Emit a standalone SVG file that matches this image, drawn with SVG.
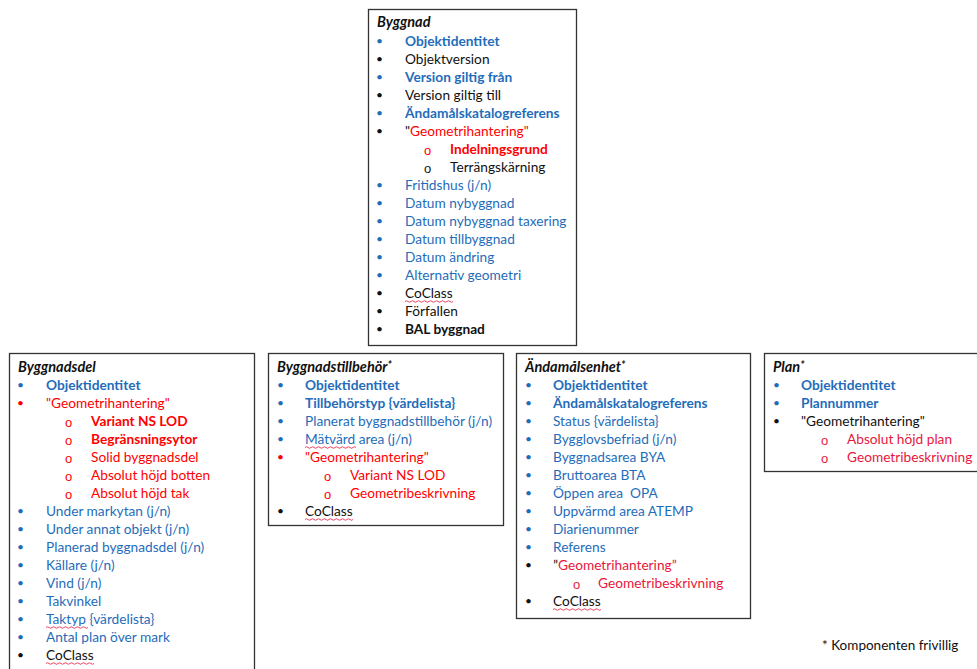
<svg xmlns="http://www.w3.org/2000/svg" width="977" height="669" viewBox="0 0 977 669">
<style>
  text { font-family: Lato, "Liberation Sans", "DejaVu Sans", sans-serif; font-size: 13.7px; fill: #111; }
  .box { fill: #fff; stroke: #333; stroke-width: 1.3; }
  .t { font-style: italic; font-weight: bold; font-size: 14.5px; fill: #111; }
  .b { fill: #1F6DBA; }
  .k { fill: #111; }
  .r { fill: #FF0000; }
  .c { fill: #E8173C; }
  .bd { font-weight: bold; }
  .dot { font-size: 12px; }
  .o { font-family: "Liberation Sans", sans-serif; font-size: 13px; }
  .sq { fill: none; stroke: #E8173C; stroke-width: 0.8; }
  .ast { font-size: 11px; }
</style>
<rect width="977" height="669" fill="#fff"/>
<g id="connectors"/>

<g id="byggnad">
  <rect class="box" x="368.5" y="9.5" width="208" height="336"/>
  <text class="t" x="377" y="27">Byggnad</text>
  <text class="dot b" x="376" y="45">•</text><text class="b bd" x="405" y="46">Objektidentitet</text>
  <text class="dot k" x="376" y="63">•</text><text class="k" x="405" y="64">Objektversion</text>
  <text class="dot b" x="376" y="81">•</text><text class="b bd" x="405" y="82">Version giltig från</text>
  <text class="dot k" x="376" y="99">•</text><text class="k" x="405" y="100">Version giltig till</text>
  <text class="dot b" x="376" y="117">•</text><text class="b bd" x="405" y="118">Ändamålskatalogreferens</text>
  <text class="dot k" x="376" y="135">•</text><text x="405" y="136"><tspan class="k">"</tspan><tspan class="r">Geometrihantering"</tspan></text>
  <text class="o r" x="424" y="155">o</text><text class="r bd" x="450" y="154">Indelningsgrund</text>
  <text class="o k" x="424" y="173">o</text><text class="k" x="450" y="172">Terrängskärning</text>
  <text class="dot b" x="376" y="189">•</text><text class="b" x="405" y="190">Fritidshus (j/n)</text>
  <text class="dot b" x="376" y="207">•</text><text class="b" x="405" y="208">Datum nybyggnad</text>
  <text class="dot b" x="376" y="225">•</text><text class="b" x="405" y="226">Datum nybyggnad taxering</text>
  <text class="dot b" x="376" y="243">•</text><text class="b" x="405" y="244">Datum tillbyggnad</text>
  <text class="dot b" x="376" y="261">•</text><text class="b" x="405" y="262">Datum ändring</text>
  <text class="dot b" x="376" y="279">•</text><text class="b" x="405" y="280">Alternativ geometri</text>
  <text class="dot k" x="376" y="297">•</text><text class="k" x="405" y="298">CoClass</text>
  <path class="sq" d="M405 301.5 q1.5 -1.5 3 0 t3 0 t3 0 t3 0 t3 0 t3 0 t3 0 t3 0 t3 0 t3 0 t3 0 t3 0 t3 0 t3 0 t3 0 t3 0"/>
  <text class="dot k" x="376" y="315">•</text><text class="k" x="405" y="316">Förfallen</text>
  <text class="dot k" x="376" y="333">•</text><text class="k bd" x="405" y="334">BAL byggnad</text>
</g>

<g id="byggnadsdel">
  <rect class="box" x="9.5" y="353.5" width="245" height="330"/>
  <text class="t" x="18" y="372">Byggnadsdel</text>
  <text class="dot b" x="17" y="389">•</text><text class="b bd" x="46" y="390">Objektidentitet</text>
  <text class="dot r" x="17" y="407">•</text><text class="r" x="46" y="408">"Geometrihantering"</text>
  <text class="o r" x="65" y="427">o</text><text class="r bd" x="91" y="426">Variant NS LOD</text>
  <text class="o r" x="65" y="445">o</text><text class="r bd" x="91" y="444">Begränsningsytor</text>
  <text class="o r" x="65" y="463">o</text><text class="r" x="91" y="462">Solid byggnadsdel</text>
  <text class="o r" x="65" y="481">o</text><text class="r" x="91" y="480">Absolut höjd botten</text>
  <text class="o r" x="65" y="499">o</text><text class="r" x="91" y="498">Absolut höjd tak</text>
  <text class="dot b" x="17" y="515">•</text><text class="b" x="46" y="516">Under markytan (j/n)</text>
  <text class="dot b" x="17" y="533">•</text><text class="b" x="46" y="534">Under annat objekt (j/n)</text>
  <text class="dot b" x="17" y="551">•</text><text class="b" x="46" y="552">Planerad byggnadsdel (j/n)</text>
  <text class="dot b" x="17" y="569">•</text><text class="b" x="46" y="570">Källare (j/n)</text>
  <text class="dot b" x="17" y="587">•</text><text class="b" x="46" y="588">Vind (j/n)</text>
  <text class="dot b" x="17" y="605">•</text><text class="b" x="46" y="606">Takvinkel</text>
  <text class="dot b" x="17" y="623">•</text><text class="b" x="46" y="624">Taktyp {värdelista}</text>
  <path class="sq" d="M46 627.5 q1.5 -1.5 3 0 t3 0 t3 0 t3 0 t3 0 t3 0 t3 0 t3 0 t3 0 t3 0 t3 0 t3 0 t3 0 t3 0"/>
  <text class="dot b" x="17" y="641">•</text><text class="b" x="46" y="642">Antal plan över mark</text>
  <text class="dot k" x="17" y="659">•</text><text class="k" x="46" y="660">CoClass</text>
  <path class="sq" d="M46 663.5 q1.5 -1.5 3 0 t3 0 t3 0 t3 0 t3 0 t3 0 t3 0 t3 0 t3 0 t3 0 t3 0 t3 0 t3 0 t3 0 t3 0 t3 0"/>
</g>

<g id="byggnadstillbehor">
  <rect class="box" x="268.5" y="353.5" width="235" height="172"/>
  <text class="t" x="277" y="372">Byggnadstillbehör<tspan class="ast" dy="-3">*</tspan></text>
  <text class="dot b" x="277" y="389">•</text><text class="b bd" x="305" y="390">Objektidentitet</text>
  <text class="dot b" x="277" y="407">•</text><text class="b bd" x="305" y="408">Tillbehörstyp {värdelista}</text>
  <text class="dot b" x="277" y="425">•</text><text class="b" x="305" y="426">Planerat byggnadstillbehör (j/n)</text>
  <text class="dot b" x="277" y="443">•</text><text class="b" x="305" y="444">Mätvärd area (j/n)</text>
  <path class="sq" d="M305 447.5 q1.5 -1.5 3 0 t3 0 t3 0 t3 0 t3 0 t3 0 t3 0 t3 0 t3 0 t3 0 t3 0 t3 0 t3 0 t3 0 t3 0 t3 0 t3 0"/>
  <text class="dot r" x="277" y="461">•</text><text class="r" x="305" y="462">"Geometrihantering"</text>
  <text class="o r" x="324" y="481">o</text><text class="r" x="350" y="480">Variant NS LOD</text>
  <text class="o r" x="324" y="499">o</text><text class="r" x="350" y="498">Geometribeskrivning</text>
  <text class="dot k" x="277" y="515">•</text><text class="k" x="305" y="516">CoClass</text>
  <path class="sq" d="M305 519.5 q1.5 -1.5 3 0 t3 0 t3 0 t3 0 t3 0 t3 0 t3 0 t3 0 t3 0 t3 0 t3 0 t3 0 t3 0 t3 0 t3 0 t3 0"/>
</g>

<g id="andamalsenhet">
  <rect class="box" x="516.5" y="353.5" width="234" height="265"/>
  <text class="t" x="525" y="372">Ändamålsenhet<tspan class="ast" dy="-3">*</tspan></text>
  <text class="dot b" x="525" y="389">•</text><text class="b bd" x="553" y="390">Objektidentitet</text>
  <text class="dot b" x="525" y="407">•</text><text class="b bd" x="553" y="408">Ändamålskatalogreferens</text>
  <text class="dot b" x="525" y="425">•</text><text class="b" x="553" y="426">Status {värdelista}</text>
  <text class="dot b" x="525" y="443">•</text><text class="b" x="553" y="444">Bygglovsbefriad (j/n)</text>
  <text class="dot b" x="525" y="461">•</text><text class="b" x="553" y="462">Byggnadsarea BYA</text>
  <text class="dot b" x="525" y="479">•</text><text class="b" x="553" y="480">Bruttoarea BTA</text>
  <text class="dot b" x="525" y="497">•</text><text class="b" x="553" y="498" xml:space="preserve">Öppen area  OPA</text>
  <text class="dot b" x="525" y="515">•</text><text class="b" x="553" y="516">Uppvärmd area ATEMP</text>
  <text class="dot b" x="525" y="533">•</text><text class="b" x="553" y="534">Diarienummer</text>
  <text class="dot b" x="525" y="551">•</text><text class="b" x="553" y="552">Referens</text>
  <text class="dot k" x="525" y="569">•</text><text x="553" y="570"><tspan class="k">”</tspan><tspan class="c">Geometrihantering”</tspan></text>
  <text class="o c" x="573" y="589">o</text><text class="c" x="598" y="588">Geometribeskrivning</text>
  <text class="dot k" x="525" y="605">•</text><text class="k" x="553" y="606">CoClass</text>
  <path class="sq" d="M553 609.5 q1.5 -1.5 3 0 t3 0 t3 0 t3 0 t3 0 t3 0 t3 0 t3 0 t3 0 t3 0 t3 0 t3 0 t3 0 t3 0 t3 0 t3 0"/>
</g>

<g id="plan">
  <rect class="box" x="764.5" y="353.5" width="220" height="118"/>
  <text class="t" x="773" y="372">Plan<tspan class="ast" dy="-3">*</tspan></text>
  <text class="dot b" x="773" y="389">•</text><text class="b bd" x="801" y="390">Objektidentitet</text>
  <text class="dot b" x="773" y="407">•</text><text class="b bd" x="801" y="408">Plannummer</text>
  <text class="dot k" x="773" y="425">•</text><text class="k" x="801" y="426">"Geometrihantering"</text>
  <text class="o c" x="821" y="445">o</text><text class="c" x="847" y="444">Absolut höjd plan</text>
  <text class="o c" x="821" y="463">o</text><text class="c" x="847" y="462">Geometribeskrivning</text>
</g>

<g id="footnote">
  <text class="k" x="822" y="650" style="font-size:13.5px">* Komponenten frivillig</text>
</g>
</svg>
